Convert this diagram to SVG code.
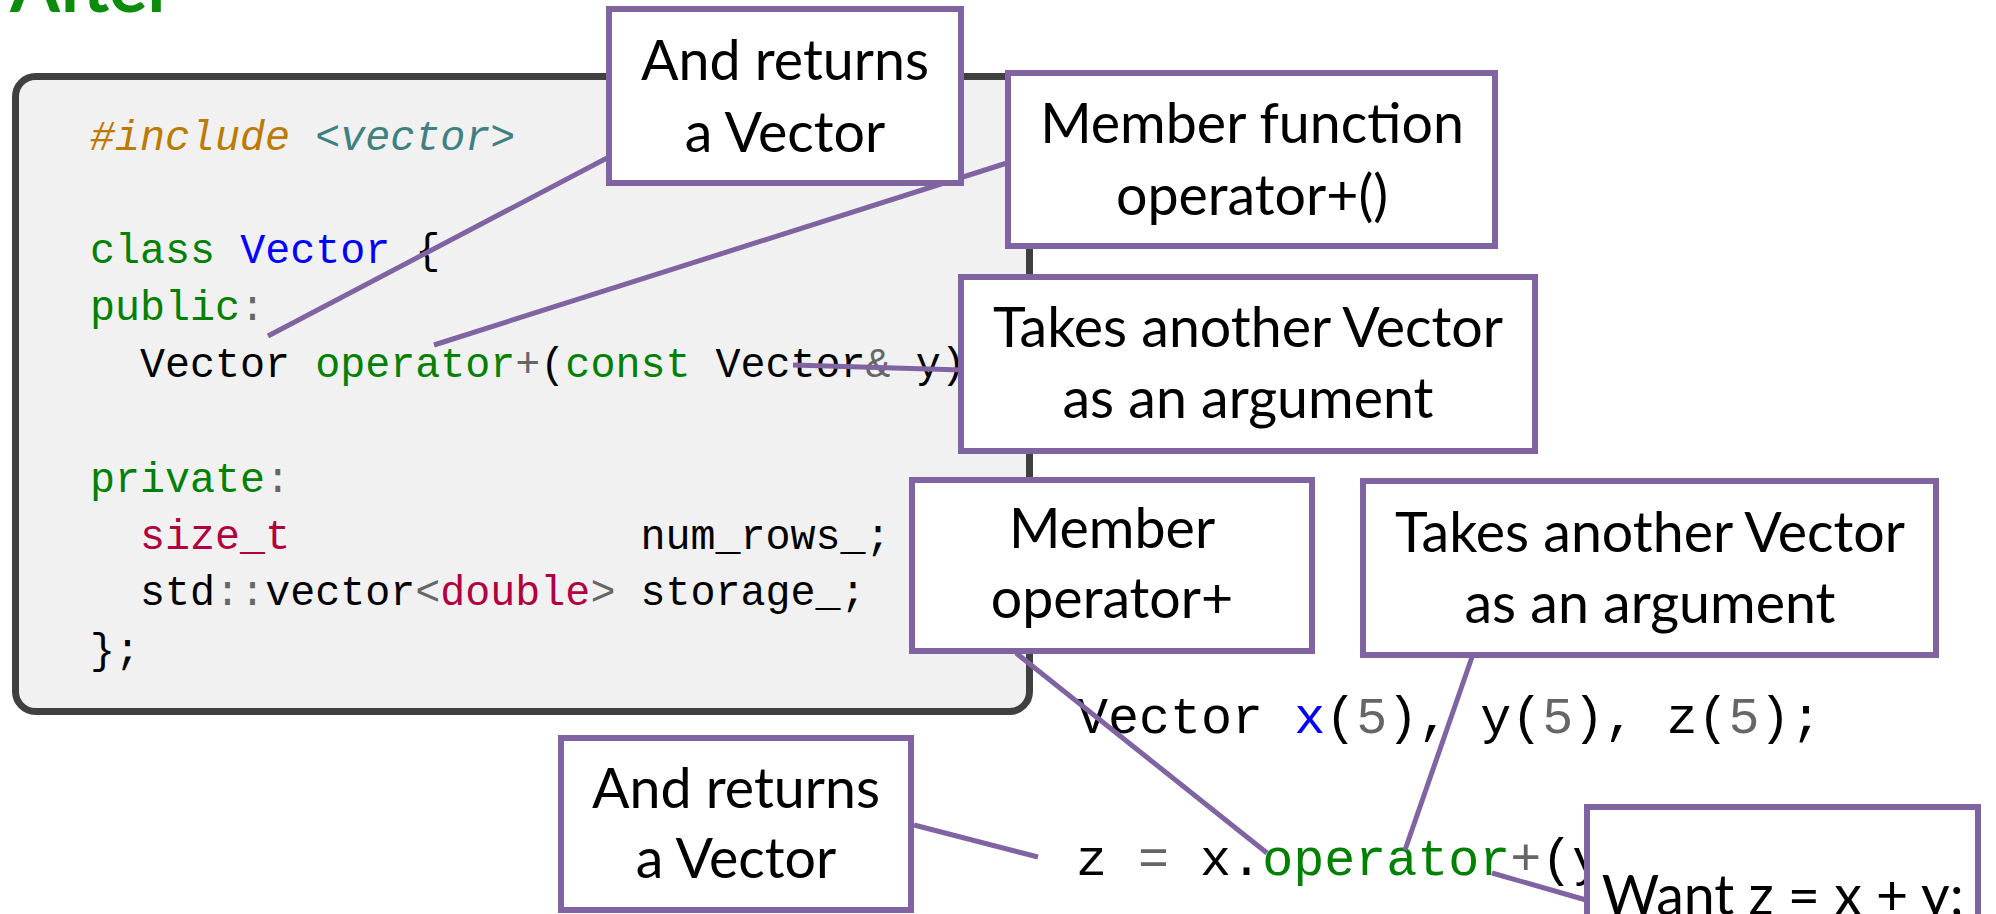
<svg xmlns="http://www.w3.org/2000/svg" width="1996" height="914" viewBox="0 0 1996 914">
<style>
.code{font-family:"Liberation Mono","DejaVu Sans Mono",monospace;font-size:41.7px;fill:#000}
.code2{font-family:"Liberation Mono","DejaVu Sans Mono",monospace;font-size:51.7px;fill:#000}
.kw{fill:#008000}
.op{fill:#666666}
.cls{fill:#0000ff}
.ty{fill:#b00040}
.pp{fill:#bc7a00;font-style:italic}
.inc{fill:#408080;font-style:italic}
.box{fill:#ffffff;stroke:#8064a2;stroke-width:6}
.lbl{font-family:Lato,"Open Sans",sans-serif;font-size:55.5px;fill:#000;text-anchor:middle}
.conn line{stroke:#8064a2;stroke-width:5;stroke-linecap:butt}
</style>
<rect width="1996" height="914" fill="#ffffff"/>
<text x="10" y="12" font-family="Lato,'Open Sans',sans-serif" font-weight="bold" font-size="72" fill="#0c8c0c">After</text>

<g id="code-block">
<rect x="15.5" y="76.5" width="1014" height="635" rx="20" fill="#f1f1f1" stroke="#404040" stroke-width="7"/>
<text class="code" x="90" y="150" xml:space="preserve"><tspan class="pp">#include</tspan> <tspan class="inc">&lt;vector&gt;</tspan></text>
<text class="code" x="90" y="263" xml:space="preserve"><tspan class="kw">class</tspan> <tspan class="cls">Vector</tspan> {</text>
<text class="code" x="90" y="320" xml:space="preserve"><tspan class="kw">public</tspan><tspan class="op">:</tspan></text>
<text class="code" x="90" y="377" xml:space="preserve">  Vector <tspan class="kw">operator</tspan><tspan class="op">+</tspan>(<tspan class="kw">const</tspan> Vector<tspan class="op">&amp;</tspan> y)</text>
<text class="code" x="90" y="492" xml:space="preserve"><tspan class="kw">private</tspan><tspan class="op">:</tspan></text>
<text class="code" x="90" y="549" xml:space="preserve">  <tspan class="ty">size_t</tspan>              num_rows_;</text>
<text class="code" x="90" y="605" xml:space="preserve">  std<tspan class="op">::</tspan>vector<tspan class="op">&lt;</tspan><tspan class="ty">double</tspan><tspan class="op">&gt;</tspan> storage_;</text>
<text class="code" x="90" y="663" xml:space="preserve">};</text>
</g>

<g id="usage-code">
<text class="code2" x="1077" y="733" xml:space="preserve">Vector <tspan class="cls">x</tspan>(<tspan class="op">5</tspan>), y(<tspan class="op">5</tspan>), z(<tspan class="op">5</tspan>);</text>
<text class="code2" x="1076" y="875" xml:space="preserve">z <tspan class="op">=</tspan> x.<tspan class="kw">operator</tspan><tspan class="op">+</tspan>(y</text>
</g>

<g id="connectors" class="conn">
<line x1="268" y1="336" x2="607" y2="158"/>
<line x1="434" y1="345" x2="1007" y2="163"/>
<line x1="793" y1="365" x2="962" y2="370"/>
<line x1="1016" y1="653" x2="1267" y2="853"/>
<line x1="1472" y1="657" x2="1405" y2="850"/>
<line x1="914" y1="825" x2="1038" y2="857"/>
<line x1="1492" y1="873" x2="1586" y2="900"/>
</g>

<g id="note-returns-top">
<rect class="box" x="609" y="9" width="352" height="174"/>
<text class="lbl" x="785" y="80">And returns</text>
<text class="lbl" x="785" y="152">a Vector</text>
</g>
<g id="note-member-function">
<rect class="box" x="1008" y="73" width="487" height="173"/>
<text class="lbl" x="1252" y="143">Member function</text>
<text class="lbl" x="1252" y="215">operator+()</text>
</g>
<g id="note-takes-top">
<rect class="box" x="961" y="277" width="574" height="174"/>
<text class="lbl" x="1248" y="347">Takes another Vector</text>
<text class="lbl" x="1248" y="418">as an argument</text>
</g>
<g id="note-member-op">
<rect class="box" x="912" y="480" width="400" height="171"/>
<text class="lbl" x="1112" y="548">Member</text>
<text class="lbl" x="1112" y="618">operator+</text>
</g>
<g id="note-takes-bottom">
<rect class="box" x="1363" y="481" width="573" height="174"/>
<text class="lbl" x="1650" y="552">Takes another Vector</text>
<text class="lbl" x="1650" y="623">as an argument</text>
</g>
<g id="note-returns-bottom">
<rect class="box" x="561" y="738" width="350" height="172"/>
<text class="lbl" x="736" y="808">And returns</text>
<text class="lbl" x="736" y="878">a Vector</text>
</g>
<g id="note-want">
<rect class="box" x="1587" y="807" width="391" height="200"/>
<text class="lbl" x="1783" y="915">Want z = x + y;</text>
</g>
</svg>
